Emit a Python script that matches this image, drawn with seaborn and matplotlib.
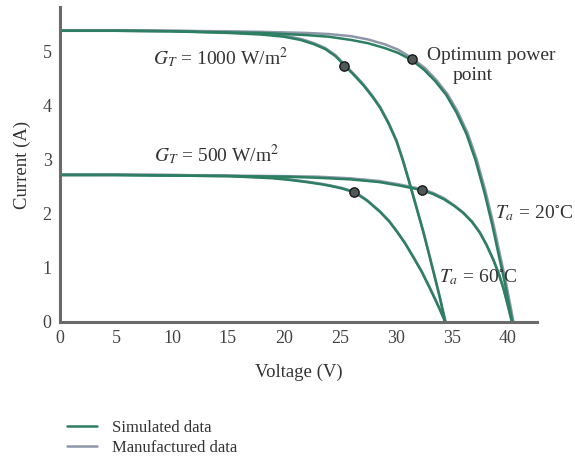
import numpy as np
import pandas as pd
import matplotlib
matplotlib.use("Agg")
import matplotlib.pyplot as plt
from matplotlib.lines import Line2D
import seaborn as sns

# ---- data (V, A) ----
curve_names = ["1000W_20C", "1000W_60C", "500W_20C", "500W_60C"]

sim_v_1000_20 = [0, 5, 10, 15, 18, 20, 22, 24, 26, 27.5, 29, 30.2, 31.4, 32.5, 33.5, 34.5, 35.4, 36.3, 37.1, 37.9, 38.6, 39.2, 39.7, 40.1, 40.4]
sim_i_1000_20 = [5.39, 5.39, 5.38, 5.36, 5.35, 5.33, 5.31, 5.28, 5.22, 5.16, 5.07, 4.98, 4.85, 4.67, 4.46, 4.20, 3.88, 3.48, 3.00, 2.40, 1.80, 1.22, 0.75, 0.32, 0.0]
man_v_1000_20 = [0, 5, 10, 15, 18, 20, 22, 24, 26, 27.5, 29, 30.2, 31.4, 32.6, 33.6, 34.6, 35.5, 36.4, 37.2, 38.0, 38.7, 39.3, 39.8, 40.2, 40.5]
man_i_1000_20 = [5.40, 5.40, 5.39, 5.38, 5.37, 5.36, 5.35, 5.33, 5.29, 5.23, 5.14, 5.04, 4.89, 4.70, 4.48, 4.22, 3.90, 3.50, 3.02, 2.42, 1.82, 1.24, 0.76, 0.33, 0.0]

sim_v_1000_60 = [0, 5, 10, 15, 18, 20, 21.5, 22.7, 23.7, 24.6, 25.45, 26.3, 27.1, 27.9, 28.6, 29.35, 30.06, 30.6, 31.1, 31.8, 32.45, 32.9, 33.35, 33.9, 34.4]
sim_i_1000_60 = [5.39, 5.39, 5.38, 5.35, 5.32, 5.28, 5.22, 5.14, 5.05, 4.92, 4.74, 4.56, 4.38, 4.17, 3.96, 3.67, 3.34, 3.00, 2.65, 2.14, 1.66, 1.30, 0.93, 0.47, 0.0]
man_v_1000_60 = [0, 5, 10, 15, 18, 20, 21.5, 22.7, 23.7, 24.6, 25.45, 26.3, 27.1, 27.9, 28.6, 29.35, 30.06, 30.6, 31.1, 31.8, 32.45, 32.9, 33.35, 33.9, 34.45]
man_i_1000_60 = [5.40, 5.40, 5.39, 5.37, 5.34, 5.30, 5.24, 5.16, 5.07, 4.94, 4.76, 4.58, 4.40, 4.19, 3.98, 3.69, 3.36, 3.02, 2.67, 2.16, 1.68, 1.31, 0.94, 0.48, 0.0]

sim_v_500_20 = [0, 5, 10, 15, 20, 23, 25.9, 28.5, 30.2, 31.4, 32.3, 33.3, 34.3, 35.2, 36.0, 36.8, 37.5, 38.1, 38.7, 39.2, 39.6, 40.0, 40.35]
sim_i_500_20 = [2.72, 2.72, 2.71, 2.70, 2.69, 2.67, 2.64, 2.59, 2.53, 2.48, 2.44, 2.37, 2.27, 2.15, 2.02, 1.85, 1.65, 1.42, 1.15, 0.88, 0.62, 0.30, 0.0]
man_v_500_20 = [0, 5, 10, 15, 20, 23, 25.9, 28.5, 30.2, 31.4, 32.3, 33.3, 34.3, 35.2, 36.0, 36.8, 37.5, 38.1, 38.7, 39.2, 39.6, 40.0, 40.4]
man_i_500_20 = [2.73, 2.73, 2.72, 2.71, 2.70, 2.69, 2.66, 2.61, 2.55, 2.50, 2.46, 2.39, 2.29, 2.16, 2.03, 1.86, 1.66, 1.43, 1.16, 0.89, 0.63, 0.31, 0.0]

sim_v_500_60 = [0, 5, 10, 15, 17, 19, 20.5, 22, 23.3, 24.1, 25.2, 26.3, 27.4, 28.57, 29.4, 30.06, 30.8, 31.55, 32.3, 33.04, 33.5, 33.9, 34.4]
sim_i_500_60 = [2.72, 2.72, 2.71, 2.70, 2.68, 2.66, 2.63, 2.59, 2.55, 2.52, 2.47, 2.40, 2.25, 2.04, 1.86, 1.68, 1.46, 1.20, 0.93, 0.62, 0.42, 0.24, 0.0]
man_v_500_60 = [0, 5, 10, 15, 17, 19, 20.5, 22, 23.3, 24.1, 25.2, 26.3, 27.4, 28.57, 29.4, 30.06, 30.8, 31.55, 32.3, 33.04, 33.5, 33.9, 34.45]
man_i_500_60 = [2.73, 2.73, 2.72, 2.71, 2.69, 2.67, 2.64, 2.60, 2.56, 2.53, 2.48, 2.41, 2.26, 2.05, 1.87, 1.69, 1.47, 1.21, 0.94, 0.63, 0.43, 0.25, 0.0]

# optimum power points
mpp_v = [31.4, 25.4, 32.3, 26.3]
mpp_i = [4.87, 4.74, 2.44, 2.40]

x_ticks = [0, 5, 10, 15, 20, 25, 30, 35, 40]
y_ticks = [0, 1, 2, 3, 4, 5]

# ---- build table ----
rows = []
sim = [(sim_v_1000_20, sim_i_1000_20), (sim_v_1000_60, sim_i_1000_60),
       (sim_v_500_20, sim_i_500_20), (sim_v_500_60, sim_i_500_60)]
man = [(man_v_1000_20, man_i_1000_20), (man_v_1000_60, man_i_1000_60),
       (man_v_500_20, man_i_500_20), (man_v_500_60, man_i_500_60)]
for name, (vs, is_) in zip(curve_names, man):
    for v, i in zip(vs, is_):
        rows.append(dict(V=v, I=i, curve=name, source="Manufactured data"))
for name, (vs, is_) in zip(curve_names, sim):
    for v, i in zip(vs, is_):
        rows.append(dict(V=v, I=i, curve=name, source="Simulated data"))
df = pd.DataFrame(rows)
mpp = pd.DataFrame(dict(V=mpp_v, I=mpp_i))

green = "#2c7f62"
gray = "#8d97a8"

sns.set_style("white")
plt.rcParams["font.family"] = ["Liberation Serif", "DejaVu Serif"]
plt.rcParams["mathtext.fontset"] = "stix"

fig = plt.figure(figsize=(5.75, 4.59), dpi=100)
ax = fig.add_axes([60 / 575, 1 - 322 / 459, (537 - 60) / 575, (322 - 7) / 459])

sns.lineplot(data=df, x="V", y="I", hue="source", units="curve", estimator=None,
             sort=False, palette={"Manufactured data": gray, "Simulated data": green},
             hue_order=["Manufactured data", "Simulated data"], linewidth=1.8,
             legend=False, ax=ax, solid_joinstyle="round")
sns.scatterplot(data=mpp, x="V", y="I", color="#505858", edgecolor="#1a1a1a",
                s=45, linewidth=1.0, zorder=5, ax=ax)

ax.set_xlim(0, 42.6)
ax.set_ylim(0, 5.83)
ax.set_xticks(x_ticks)
ax.set_yticks(y_ticks)
ax.tick_params(direction="in", length=4, width=1.2, colors="#333333",
               labelsize=13, labelcolor="#444444", pad=6)
for s in ["top", "right"]:
    ax.spines[s].set_visible(False)
for s in ["left", "bottom"]:
    ax.spines[s].set_color("#6a6a6a")
    ax.spines[s].set_linewidth(2.2)
ax.set_xlabel("Voltage (V)", fontsize=13.5, color="#333333", labelpad=12)
ax.set_ylabel("Current (A)", fontsize=13.5, color="#333333", labelpad=8)

tc = "#333333"
fs = 14
ax.text(14.3, 4.89, r"$G_T$ = 1000 W/m$^2$", fontsize=fs, color=tc, ha="center", va="center")
ax.text(14.0, 3.09, r"$G_T$ = 500 W/m$^2$", fontsize=fs, color=tc, ha="center", va="center")
ax.text(32.8, 4.94, "Optimum power", fontsize=fs, color=tc, ha="left", va="center")
ax.text(35.1, 4.57, "point", fontsize=fs, color=tc, ha="left", va="center")
ax.text(38.85, 2.02, r"$T_a$ = 20$^{\circ}$C", fontsize=fs, color=tc, ha="left", va="center")
ax.text(33.85, 0.83, r"$T_a$ = 60$^{\circ}$C", fontsize=fs, color=tc, ha="left", va="center")

handles = [Line2D([0], [0], color=green, lw=1.8), Line2D([0], [0], color=gray, lw=1.8)]
fig.legend(handles, ["Simulated data", "Manufactured data"], loc="upper left",
           bbox_to_anchor=(52 / 575, 1 - 405 / 459), frameon=False, fontsize=12,
           handlelength=1.8, handletextpad=0.9, labelspacing=0.25, labelcolor="#333333")

fig.savefig("out.png", dpi=100)
